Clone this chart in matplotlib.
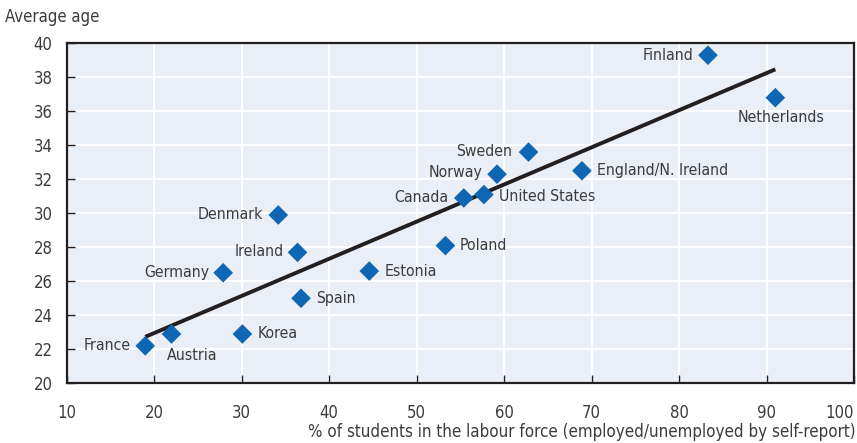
import matplotlib
matplotlib.use("Agg")
import matplotlib.pyplot as plt
import numpy as np

plt.rcParams['font.family'] = ['DejaVu Sans']
plt.rcParams['font.stretch'] = 'condensed'

countries = ['Finland', 'Netherlands', 'England/N. Ireland', 'Sweden', 'Norway',
             'Canada', 'United States', 'Poland', 'Estonia', 'Denmark', 'Ireland',
             'Germany', 'Spain', 'Korea', 'Austria', 'France']
labour_share = [83.3, 91.0, 68.9, 62.8, 59.2, 55.4, 57.7, 53.3, 44.6, 34.2, 36.4,
                27.9, 36.8, 30.1, 22.0, 19.0]
avg_age = [39.3, 36.8, 32.5, 33.6, 32.3, 30.9, 31.1, 28.1, 26.6, 29.9, 27.7,
           26.5, 25.0, 22.9, 22.9, 22.2]

# label placement (offset in px, alignment)
label_pos = {
    'Finland': (-15, 0, 'right', 'center'),
    'Netherlands': (6, -12, 'center', 'top'),
    'England/N. Ireland': (15, 0, 'left', 'center'),
    'Sweden': (-16, 1, 'right', 'center'),
    'Norway': (-15, 2, 'right', 'center'),
    'Canada': (-15, 0, 'right', 'center'),
    'United States': (15, -2, 'left', 'center'),
    'Poland': (14, 0, 'left', 'center'),
    'Estonia': (15, 0, 'left', 'center'),
    'Denmark': (-15, 0, 'right', 'center'),
    'Ireland': (-14, 1, 'right', 'center'),
    'Germany': (-14, 0, 'right', 'center'),
    'Spain': (15, 0, 'left', 'center'),
    'Korea': (15, 0, 'left', 'center'),
    'Austria': (-5, -14, 'left', 'top'),
    'France': (-15, 0, 'right', 'center'),
}

blue = '#0f67b3'
bg = '#e9eef7'
dark = '#231f20'
txt = '#3c3c3c'

fig = plt.figure(figsize=(8.57, 4.43), dpi=100)
ax = fig.add_axes([0.0776, 0.1348, 0.919, 0.7675])
ax.set_facecolor(bg)

x = np.array(labour_share)
y = np.array(avg_age)
slope, icpt = np.polyfit(x, y, 1)
xs = np.array([x.min(), x.max()])
ax.plot(xs, slope * xs + icpt, color=dark, lw=2.8, solid_capstyle='butt', zorder=3)

ax.scatter(x, y, marker='D', s=100, color=blue, edgecolors='none', zorder=4)

for name, xi, yi in zip(countries, labour_share, avg_age):
    dx, dy, ha, va = label_pos[name]
    ax.annotate(name, (xi, yi), xytext=(dx * 0.72, dy * 0.72), textcoords='offset points',
                ha=ha, va=va, fontsize=11.3, color=txt, zorder=5)

ax.set_xlim(10, 100)
ax.set_ylim(20, 40)
ax.set_xticks(range(10, 101, 10))
ax.set_yticks(range(20, 41, 2))
ax.grid(True, color='white', lw=1.5)
ax.set_axisbelow(True)
for s in ax.spines.values():
    s.set_color(dark)
    s.set_linewidth(1.6)
ax.tick_params(axis='both', direction='in', color=dark, width=1, labelsize=12, labelcolor=txt)
ax.tick_params(axis='y', length=6, pad=10)
ax.tick_params(axis='x', length=6, pad=15)
last = ax.get_xticklabels()[-1]
last.set_horizontalalignment('right')

fig.text(0.006, 0.962, 'Average age', fontsize=12, color=txt, ha='left', va='center')
fig.text(0.998, 0.024, '% of students in the labour force (employed/unemployed by self-report)',
         fontsize=12.2, color=txt, ha='right', va='center')

fig.savefig('out.png', dpi=100)
